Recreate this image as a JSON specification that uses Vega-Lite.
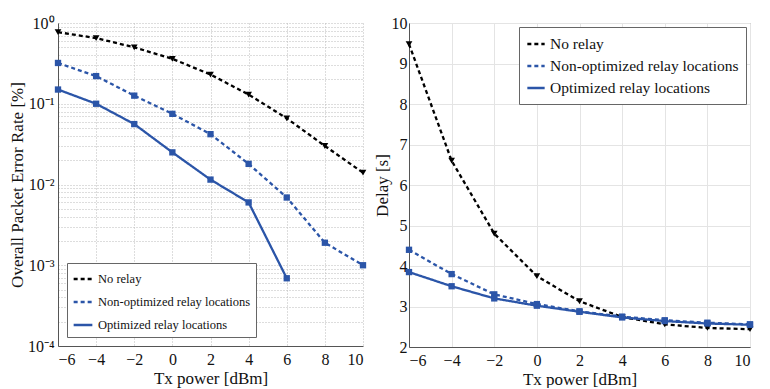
{
  "$schema": "https://vega.github.io/schema/vega-lite/v6.json",
  "background": "white",
  "padding": {"left": 8, "top": 14, "right": 2, "bottom": 0},
  "spacing": 4,
  "config": {
    "font": "Liberation Serif",
    "view": {"stroke": null},
    "axis": {
      "labelFont": "Liberation Serif",
      "titleFont": "Liberation Serif",
      "labelFontSize": 16,
      "titleFontSize": 17,
      "titleFontWeight": "normal",
      "labelColor": "#111",
      "titleColor": "#111",
      "domainColor": "#555",
      "tickColor": "#555"
    },
    "legend": {
      "labelFont": "Liberation Serif",
      "labelColor": "#111",
      "labelLimit": 400,
      "strokeColor": "#666",
      "fillColor": "white",
      "symbolType": "stroke",
      "symbolStrokeWidth": 2.4
    }
  },
  "datasets": {
    "per": [
      {"tx": -6, "series": "No relay", "v": 0.77},
      {"tx": -4, "series": "No relay", "v": 0.65},
      {"tx": -2, "series": "No relay", "v": 0.5},
      {"tx": 0, "series": "No relay", "v": 0.36},
      {"tx": 2, "series": "No relay", "v": 0.23},
      {"tx": 4, "series": "No relay", "v": 0.13},
      {"tx": 6, "series": "No relay", "v": 0.066},
      {"tx": 8, "series": "No relay", "v": 0.03},
      {"tx": 10, "series": "No relay", "v": 0.014},
      {"tx": -6, "series": "Non-optimized relay locations", "v": 0.32},
      {"tx": -4, "series": "Non-optimized relay locations", "v": 0.22},
      {"tx": -2, "series": "Non-optimized relay locations", "v": 0.126},
      {"tx": 0, "series": "Non-optimized relay locations", "v": 0.075},
      {"tx": 2, "series": "Non-optimized relay locations", "v": 0.042},
      {"tx": 4, "series": "Non-optimized relay locations", "v": 0.018},
      {"tx": 6, "series": "Non-optimized relay locations", "v": 0.0069},
      {"tx": 8, "series": "Non-optimized relay locations", "v": 0.0019},
      {"tx": 10, "series": "Non-optimized relay locations", "v": 0.001},
      {"tx": -6, "series": "Optimized relay locations", "v": 0.15},
      {"tx": -4, "series": "Optimized relay locations", "v": 0.1},
      {"tx": -2, "series": "Optimized relay locations", "v": 0.056},
      {"tx": 0, "series": "Optimized relay locations", "v": 0.025},
      {"tx": 2, "series": "Optimized relay locations", "v": 0.0115},
      {"tx": 4, "series": "Optimized relay locations", "v": 0.006},
      {"tx": 6, "series": "Optimized relay locations", "v": 0.00069}
    ],
    "delay": [
      {"tx": -6, "series": "No relay", "v": 9.48},
      {"tx": -4, "series": "No relay", "v": 6.6},
      {"tx": -2, "series": "No relay", "v": 4.8},
      {"tx": 0, "series": "No relay", "v": 3.75},
      {"tx": 2, "series": "No relay", "v": 3.13},
      {"tx": 4, "series": "No relay", "v": 2.74},
      {"tx": 6, "series": "No relay", "v": 2.56},
      {"tx": 8, "series": "No relay", "v": 2.47},
      {"tx": 10, "series": "No relay", "v": 2.44},
      {"tx": -6, "series": "Non-optimized relay locations", "v": 4.4},
      {"tx": -4, "series": "Non-optimized relay locations", "v": 3.8},
      {"tx": -2, "series": "Non-optimized relay locations", "v": 3.3},
      {"tx": 0, "series": "Non-optimized relay locations", "v": 3.06},
      {"tx": 2, "series": "Non-optimized relay locations", "v": 2.88},
      {"tx": 4, "series": "Non-optimized relay locations", "v": 2.75},
      {"tx": 6, "series": "Non-optimized relay locations", "v": 2.66},
      {"tx": 8, "series": "Non-optimized relay locations", "v": 2.6},
      {"tx": 10, "series": "Non-optimized relay locations", "v": 2.56},
      {"tx": -6, "series": "Optimized relay locations", "v": 3.85},
      {"tx": -4, "series": "Optimized relay locations", "v": 3.5},
      {"tx": -2, "series": "Optimized relay locations", "v": 3.2},
      {"tx": 0, "series": "Optimized relay locations", "v": 3.02},
      {"tx": 2, "series": "Optimized relay locations", "v": 2.87},
      {"tx": 4, "series": "Optimized relay locations", "v": 2.73},
      {"tx": 6, "series": "Optimized relay locations", "v": 2.64},
      {"tx": 8, "series": "Optimized relay locations", "v": 2.58},
      {"tx": 10, "series": "Optimized relay locations", "v": 2.55}
    ]
  },
  "resolve": {"scale": {"color": "independent", "strokeDash": "independent"}},
  "hconcat": [
    {
      "width": 305,
      "height": 323,
      "data": {"name": "per"},
      "encoding": {
        "x": {
          "field": "tx", "type": "quantitative",
          "scale": {"domain": [-6, 10], "nice": false},
          "axis": {"title": "Tx power [dBm]", "values": [-6, -4, -2, 0, 2, 4, 6, 8, 10], "grid": true, "gridDash": [1, 2], "gridColor": "#bbb", "tickSize": 0, "labelPadding": 5, "titlePadding": 3}
        },
        "y": {
          "field": "v", "type": "quantitative",
          "scale": {"type": "log", "domain": [0.0001, 1], "nice": false},
          "axis": {
            "title": "Overall Packet Error Rate [%]",
            "values": [0.0001, 0.0002, 0.0003, 0.0004, 0.0005, 0.0006, 0.0007, 0.0008, 0.0009, 0.001, 0.002, 0.003, 0.004, 0.005, 0.006, 0.007, 0.008, 0.009, 0.01, 0.02, 0.03, 0.04, 0.05, 0.06, 0.07, 0.08, 0.09, 0.1, 0.2, 0.3, 0.4, 0.5, 0.6, 0.7, 0.8, 0.9, 1],
            "labelExpr": "datum.value > 0.99 ? '10⁰' : (abs(datum.value - 0.1) < 1e-9 ? '10⁻¹' : (abs(datum.value - 0.01) < 1e-10 ? '10⁻²' : (abs(datum.value - 0.001) < 1e-11 ? '10⁻³' : (abs(datum.value - 0.0001) < 1e-12 ? '10⁻⁴' : ''))))",
            "grid": true, "gridDash": [1, 2], "gridColor": "#bbb", "tickSize": 0, "labelPadding": 4, "titlePadding": 1, "labelOverlap": false
          }
        },
        "color": {
          "field": "series", "type": "nominal",
          "scale": {"domain": ["No relay", "Non-optimized relay locations", "Optimized relay locations"], "range": ["#000000", "#2b55a8", "#2b55a8"]},
          "legend": {"title": null, "orient": "bottom-left", "offset": 9, "labelFontSize": 12.5, "symbolSize": 350, "rowPadding": 5, "padding": 5}
        }
      },
      "layer": [
        {
          "mark": {"type": "line", "strokeWidth": 2.3},
          "encoding": {
            "strokeDash": {
              "field": "series", "type": "nominal",
              "scale": {"domain": ["No relay", "Non-optimized relay locations", "Optimized relay locations"], "range": [[4, 3], [4, 3], [1, 0]]},
              "legend": {"title": null, "orient": "bottom-left", "offset": 9, "labelFontSize": 12.5, "symbolSize": 350, "rowPadding": 5, "padding": 5}
            }
          }
        },
        {
          "transform": [{"filter": "datum.series === 'No relay'"}],
          "mark": {"type": "point", "shape": "triangle-down", "filled": true, "size": 45, "opacity": 1}
        },
        {
          "transform": [{"filter": "datum.series !== 'No relay'"}],
          "mark": {"type": "point", "shape": "square", "filled": true, "size": 40, "opacity": 1}
        }
      ]
    },
    {
      "width": 341,
      "height": 324,
      "view": {"stroke": "#888"},
      "data": {"name": "delay"},
      "encoding": {
        "x": {
          "field": "tx", "type": "quantitative",
          "scale": {"domain": [-6, 10], "nice": false},
          "axis": {"title": "Tx power [dBm]", "values": [-6, -4, -2, 0, 2, 4, 6, 8, 10], "grid": true, "gridColor": "#e4e4e4", "tickSize": 0, "labelPadding": 5, "titlePadding": 3}
        },
        "y": {
          "field": "v", "type": "quantitative",
          "scale": {"domain": [2, 10], "nice": false},
          "axis": {"title": "Delay [s]", "values": [2, 3, 4, 5, 6, 7, 8, 9, 10], "grid": true, "gridColor": "#e4e4e4", "tickSize": 0, "labelPadding": 2, "titlePadding": 0}
        },
        "color": {
          "field": "series", "type": "nominal",
          "scale": {"domain": ["No relay", "Non-optimized relay locations", "Optimized relay locations"], "range": ["#000000", "#2b55a8", "#2b55a8"]},
          "legend": {"title": null, "orient": "top-right", "offset": 4, "labelFontSize": 15.5, "symbolSize": 300, "rowPadding": 3, "padding": 7}
        }
      },
      "layer": [
        {
          "mark": {"type": "line", "strokeWidth": 2.3},
          "encoding": {
            "strokeDash": {
              "field": "series", "type": "nominal",
              "scale": {"domain": ["No relay", "Non-optimized relay locations", "Optimized relay locations"], "range": [[4, 3], [4, 3], [1, 0]]},
              "legend": {"title": null, "orient": "top-right", "offset": 4, "labelFontSize": 15.5, "symbolSize": 300, "rowPadding": 3, "padding": 7}
            }
          }
        },
        {
          "transform": [{"filter": "datum.series === 'No relay'"}],
          "mark": {"type": "point", "shape": "triangle-down", "filled": true, "size": 45, "opacity": 1}
        },
        {
          "transform": [{"filter": "datum.series !== 'No relay'"}],
          "mark": {"type": "point", "shape": "square", "filled": true, "size": 40, "opacity": 1}
        }
      ]
    }
  ]
}
